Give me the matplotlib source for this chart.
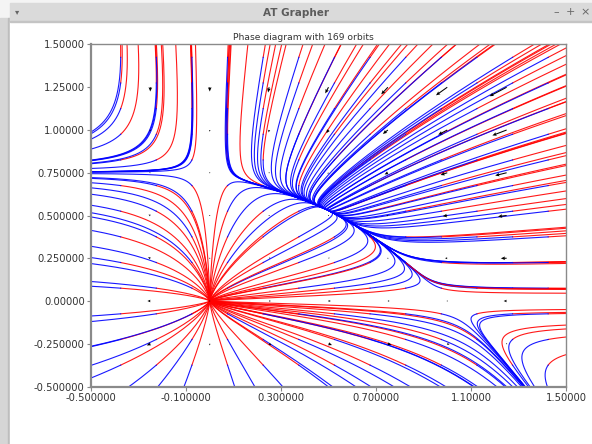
import numpy as np
import matplotlib
matplotlib.use("Agg")
import matplotlib.pyplot as plt
from matplotlib.patches import Rectangle

# competition model  x' = x(r1 - a11 x - a12 y),  y' = y(r2 - a21 x+ - a22 y)
# (x only acts on y where x > 0)
r1, a11, a12 = 1.0, 1.0, 0.95
r2, a21, a22 = 0.75, 0.44, 1.0

x_min, x_max = -0.5, 1.5
y_min, y_max = -0.5, 1.5

# 13 x 13 starting points -> 169 orbits
orbit_x0 = [-0.375, -0.225, -0.075, 0.075, 0.225, 0.375, 0.525, 0.675, 0.825, 0.975, 1.125, 1.275, 1.425]
orbit_y0 = [-0.375, -0.225, -0.075, 0.075, 0.225, 0.375, 0.525, 0.675, 0.825, 0.975, 1.125, 1.275, 1.425]

# direction field sample points
arrow_x = [-0.25, 0.0, 0.25, 0.5, 0.75, 1.0, 1.25]
arrow_y = [-0.25, 0.0, 0.25, 0.5, 0.75, 1.0, 1.25]

x_ticks = [-0.5, -0.1, 0.3, 0.7, 1.1, 1.5]
x_tick_labels = ["-0.500000", "-0.100000", "0.300000", "0.700000", "1.10000", "1.50000"]
y_ticks = [-0.5, -0.25, 0.0, 0.25, 0.5, 0.75, 1.0, 1.25, 1.5]
y_tick_labels = ["-0.500000", "-0.250000", "0.00000", "0.250000", "0.500000",
                 "0.750000", "1.00000", "1.25000", "1.50000"]


def field(x, y):
    dx = x * (r1 - a11 * x - a12 * y)
    dy = y * (r2 - a21 * np.maximum(x, 0.0) - a22 * y)
    return dx, dy


def integrate(x0, y0, sign, t_end=14.0, dt=0.005):
    """RK4 for all start points at once; points that leave the box become NaN."""
    x = np.array(x0, float)
    y = np.array(y0, float)
    alive = np.ones_like(x, bool)
    xs, ys = [x.copy()], [y.copy()]
    h = sign * dt
    for _ in range(int(t_end / dt)):
        k1x, k1y = field(x, y)
        k2x, k2y = field(x + h / 2 * k1x, y + h / 2 * k1y)
        k3x, k3y = field(x + h / 2 * k2x, y + h / 2 * k2y)
        k4x, k4y = field(x + h * k3x, y + h * k3y)
        nx = x + h / 6 * (k1x + 2 * k2x + 2 * k3x + k4x)
        ny = y + h / 6 * (k1y + 2 * k2y + 2 * k3y + k4y)
        nx[~alive] = np.nan
        ny[~alive] = np.nan
        xs.append(nx.copy())
        ys.append(ny.copy())
        out = (nx < x_min - 0.05) | (nx > x_max + 0.05) | (ny < y_min - 0.05) | (ny > y_max + 0.05)
        out |= ~np.isfinite(nx) | ~np.isfinite(ny)
        alive &= ~out
        x = np.where(alive, nx, 0.0)
        y = np.where(alive, ny, 0.0)
        if not alive.any():
            break
    return np.array(xs), np.array(ys)


gx, gy = np.meshgrid(orbit_x0, orbit_y0)
fwd_x, fwd_y = integrate(gx.ravel(), gy.ravel(), +1)
bwd_x, bwd_y = integrate(gx.ravel(), gy.ravel(), -1)

W, H = 592, 444
fig = plt.figure(figsize=(W / 100, H / 100), dpi=100)
fig.patch.set_facecolor("white")

# window frame
frame = fig.add_axes([0, 0, 1, 1])
frame.set_xlim(0, W)
frame.set_ylim(H, 0)
frame.axis("off")
frame.add_patch(Rectangle((0, 0), W, H, color="#f4f4f4", zorder=0))
frame.add_patch(Rectangle((0, 18), 9, H, color="#d6d6d6", zorder=1))
frame.add_patch(Rectangle((8, 18), 1.5, H, color="#bdbdbd", zorder=1))
frame.add_patch(Rectangle((9.5, 3), W, 19, color="#dadada", zorder=1))
frame.add_patch(Rectangle((9.5, 21), W, 1, color="#c4c4c4", zorder=2))
frame.add_patch(Rectangle((9.5, 22), W, H, color="white", zorder=1))
frame.text(296, 12.5, "AT Grapher", ha="center", va="center", fontsize=7.5,
           fontweight="bold", color="#5c5c5c")
frame.text(17, 12, "\u25be", ha="center", va="center", fontsize=6, color="#666666")
for px, s in [(556, "\u2013"), (570, "+"), (585, "\u00d7")]:
    frame.text(px, 12, s, ha="center", va="center", fontsize=8, color="#666666")
frame.text(303, 37.5, "Phase diagram with 169 orbits", ha="center", va="center",
           fontsize=6.6, color="#333333", zorder=3)

ax = fig.add_axes([91 / W, 1 - 386.5 / H, (566 - 91) / W, (386.5 - 44.5) / H])
ax.set_facecolor("white")

for i in range(gx.size):
    ax.plot(bwd_x[:, i], bwd_y[:, i], color="#ff0000", lw=0.8, alpha=0.9)
    ax.plot(fwd_x[:, i], fwd_y[:, i], color="#0000ff", lw=0.8, alpha=0.9)

qx, qy = np.meshgrid(arrow_x, arrow_y)
u, v = field(qx, qy)
ax.quiver(qx, qy, u, v, angles="xy", scale_units="xy", scale=25, color="black",
          width=0.0022, headwidth=3.5, headlength=4, headaxislength=3.5, zorder=5)

ax.set_xlim(x_min, x_max)
ax.set_ylim(y_min, y_max)
ax.set_xticks(x_ticks)
ax.set_xticklabels(x_tick_labels)
ax.set_yticks(y_ticks)
ax.set_yticklabels(y_tick_labels)
ax.tick_params(direction="out", length=3, width=0.8, color="#888888",
               labelsize=7.2, labelcolor="#333333", pad=1.5)
for name, sp in ax.spines.items():
    sp.set_color("#8a8a8a")
    sp.set_linewidth(1.6 if name in ("left", "bottom") else 1.0)

fig.savefig("out.png", dpi=100)
